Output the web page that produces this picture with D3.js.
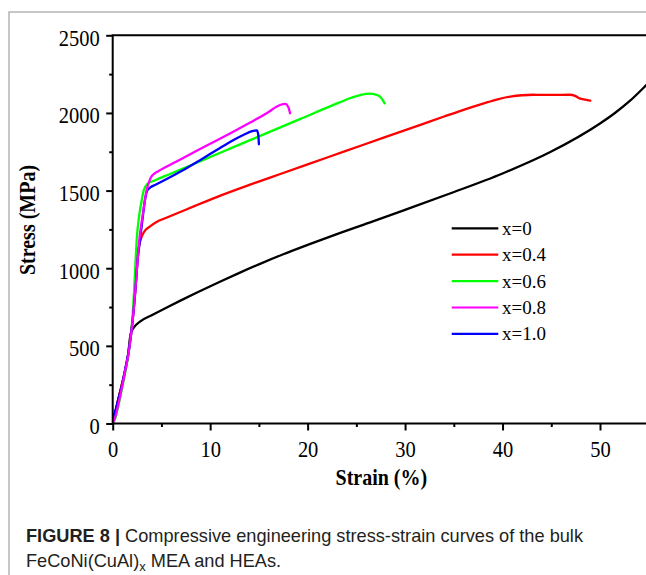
<!DOCTYPE html>
<html>
<head>
<meta charset="utf-8">
<script src="https://cdn.jsdelivr.net/npm/d3@7"></script>
<style>
html,body{margin:0;padding:0;background:#fff;overflow:hidden;}
svg{display:block;}
</style>
</head>
<body>
<svg id="chart" width="646" height="575"></svg>
<script>
// ---- data (strain %, stress MPa) ----
const seriesNames = ["x=0", "x=0.4", "x=0.6", "x=0.8", "x=1.0"];
const seriesColors = ["#000000", "#ff0000", "#00ff00", "#ff00ff", "#0000ff"];

const curveX0 = [[0,0],[0.25,65],[0.5,135],[0.9,240],[1.3,350],[1.6,450],[1.75,540],[1.85,580],[2.1,612],[2.8,656],[4,697],[5.5,746],[7,793],[8.6,842],[11,913],[13,970],[15,1025],[17.5,1090],[20,1150],[23,1220],[26.7,1302],[30,1376],[34.6,1481],[40,1610],[44.9,1748],[50,1932],[51.5,1998],[53,2074],[54.5,2164],[56,2262]];
const curveX04 = [[0,0],[0.25,65],[0.5,135],[0.9,240],[1.3,350],[1.6,450],[2.05,667],[2.35,880],[2.55,1050],[2.7,1140],[2.9,1190],[3.2,1232],[3.8,1268],[4.5,1298],[5.5,1325],[7,1364],[8.5,1403],[10.67,1458],[14.1,1538],[17.2,1607],[20,1669],[24,1757],[27.8,1841],[31.5,1922],[34,1977],[36,2020],[38,2060],[39.5,2088],[40.8,2105],[42,2114],[43.2,2117],[45,2116],[46.9,2117],[47.5,2108],[47.9,2094],[48.5,2085],[49,2079]];
const curveX06 = [[0,0],[0.3,40],[0.6,120],[1.0,240],[1.35,350],[1.65,460],[2.0,660],[2.2,860],[2.35,1050],[2.46,1182],[2.7,1330],[2.98,1439],[3.2,1504],[3.6,1545],[4.3,1565],[6,1610],[7.9,1660],[9,1690],[12.4,1780],[15.8,1870],[19.2,1960],[22.6,2050],[24.5,2098],[25.4,2115],[26.4,2125],[27.25,2112],[27.6,2092],[27.9,2062]];
const curveX08 = [[0,0],[0.3,50],[0.6,130],[1.0,250],[1.35,360],[1.65,460],[2.05,667],[2.35,880],[2.55,1050],[2.73,1182],[3.05,1330],[3.49,1504],[3.9,1583],[4.3,1610],[4.68,1625],[6.5,1685],[8.96,1768],[12.37,1879],[14.1,1938],[15.8,1998],[17.17,2051],[17.7,2058],[18.0,2040],[18.2,1998]];
const curveX10 = [[0,30],[0.3,90],[0.6,160],[1.0,260],[1.35,370],[1.65,470],[2.05,667],[2.35,880],[2.55,1050],[2.8,1182],[3.05,1311],[3.31,1439],[3.55,1500],[3.9,1522],[4.34,1536],[5.54,1575],[7.25,1633],[8.96,1696],[10.67,1761],[12.4,1826],[13.4,1858],[14.4,1884],[14.8,1888],[14.94,1858],[15.0,1798]];
const seriesData = [curveX0, curveX04, curveX06, curveX08, curveX10];
const drawOrder = [0, 1, 2, 4, 3];

const xMajorTicks = [0, 10, 20, 30, 40, 50];
const xMinorTicks = [5, 15, 25, 35, 45, 55];
const yMajorTicks = [0, 500, 1000, 1500, 2000, 2500];
const yMinorTicks = [250, 750, 1250, 1750, 2250];

const xTitle = "Strain (%)";
const yTitle = "Stress (MPa)";

// ---- layout ----
const svg = d3.select("#chart");
const x = d3.scaleLinear().domain([0, 50]).range([112.7, 600]);
const y = d3.scaleLinear().domain([0, 2500]).range([423.5, 35.3]);
const xMax = 646;

const serif = "'Liberation Serif','Times New Roman',serif";

// figure frame
svg.append("path").attr("d", "M9,575V12H646").attr("fill", "none")
  .attr("stroke", "#b4b4b4").attr("stroke-width", 1.5);

// clip for curves
svg.append("clipPath").attr("id", "plotclip").append("rect")
  .attr("x", x(0)).attr("y", y(2500)).attr("width", xMax - x(0)).attr("height", y(0) - y(2500));

// curves
const line = d3.line().x(d => x(d[0])).y(d => y(d[1])).curve(d3.curveMonotoneX);
const gCurves = svg.append("g").attr("clip-path", "url(#plotclip)");
drawOrder.forEach(i => {
  gCurves.append("path").datum(seriesData[i]).attr("d", line)
    .attr("fill", "none").attr("stroke", seriesColors[i]).attr("stroke-width", 2.3)
    .attr("stroke-linejoin", "round").attr("stroke-linecap", "round");
});

// axes
function styleAxis(g) {
  g.selectAll("path.domain").remove();
  g.selectAll(".tick line").attr("stroke", "#000").attr("stroke-width", 2);
}
const xAxisMajor = svg.append("g").attr("transform", `translate(0,${y(0)})`)
  .call(d3.axisBottom(x).tickValues(xMajorTicks).tickSize(7).tickFormat(d3.format("d")));
styleAxis(xAxisMajor);
xAxisMajor.selectAll(".tick text")
  .attr("font-family", serif).attr("font-size", 20.5).attr("fill", "#000")
  .attr("dy", null).attr("y", 0)
  .attr("transform", "translate(0,33) scale(1,1.1)");
const xAxisMinor = svg.append("g").attr("transform", `translate(0,${y(0)})`)
  .call(d3.axisBottom(x).tickValues(xMinorTicks.filter(v => x(v) < xMax)).tickSize(3.5).tickFormat(""));
styleAxis(xAxisMinor);

const yAxisMajor = svg.append("g").attr("transform", `translate(${x(0)},0)`)
  .call(d3.axisLeft(y).tickValues(yMajorTicks).tickSize(6.5).tickFormat(d3.format("d")));
styleAxis(yAxisMajor);
yAxisMajor.selectAll(".tick text")
  .attr("font-family", serif).attr("font-size", 20.5).attr("fill", "#000")
  .attr("dy", null).attr("x", 0)
  .attr("transform", "translate(-13,10) scale(1,1.1)");
const yAxisMinor = svg.append("g").attr("transform", `translate(${x(0)},0)`)
  .call(d3.axisLeft(y).tickValues(yMinorTicks).tickSize(3.5).tickFormat(""));
styleAxis(yAxisMinor);

// axis lines (left, bottom, top)
svg.append("path")
  .attr("d", `M${xMax},${y(2500)}H${x(0)}V${y(0)}H${xMax}`)
  .attr("fill", "none").attr("stroke", "#000").attr("stroke-width", 2);

// axis titles
svg.append("text").text(xTitle)
  .attr("font-family", serif).attr("font-weight", "bold").attr("font-size", 20)
  .attr("text-anchor", "middle")
  .attr("transform", `translate(${(x(0) + xMax) / 2 + 2},485) scale(1,1.12)`);
svg.append("text").text(yTitle)
  .attr("font-family", serif).attr("font-weight", "bold").attr("font-size", 20)
  .attr("text-anchor", "middle")
  .attr("transform", "translate(35,220) rotate(-90) scale(1,1.15)");

// legend
const legend = svg.append("g");
seriesNames.forEach((name, i) => {
  const ly = 228.3 + i * 26.4;
  legend.append("line").attr("x1", 451.7).attr("x2", 498.3).attr("y1", ly).attr("y2", ly)
    .attr("stroke", seriesColors[i]).attr("stroke-width", 2.2);
  legend.append("text").text(name)
    .attr("font-family", serif).attr("font-size", 19).attr("fill", "#000")
    .attr("transform", `translate(502,${ly + 6.5}) scale(1,0.95)`);
});

// caption
const sans = "'Liberation Sans',Arial,sans-serif";
const cap1 = svg.append("text").attr("x", 26).attr("y", 542)
  .attr("font-family", sans).attr("font-size", 18.2).attr("fill", "#231f20");
cap1.append("tspan").attr("font-weight", "bold").text("FIGURE 8 | ");
cap1.append("tspan").text("Compressive engineering stress-strain curves of the bulk");
const cap2 = svg.append("text").attr("x", 26).attr("y", 567)
  .attr("font-family", sans).attr("font-size", 18.2).attr("fill", "#231f20");
cap2.append("tspan").text("FeCoNi(CuAl)");
cap2.append("tspan").attr("font-size", 13).attr("dy", 4).text("x");
cap2.append("tspan").attr("dy", -4).text(" MEA and HEAs.");
</script>
</body>
</html>
